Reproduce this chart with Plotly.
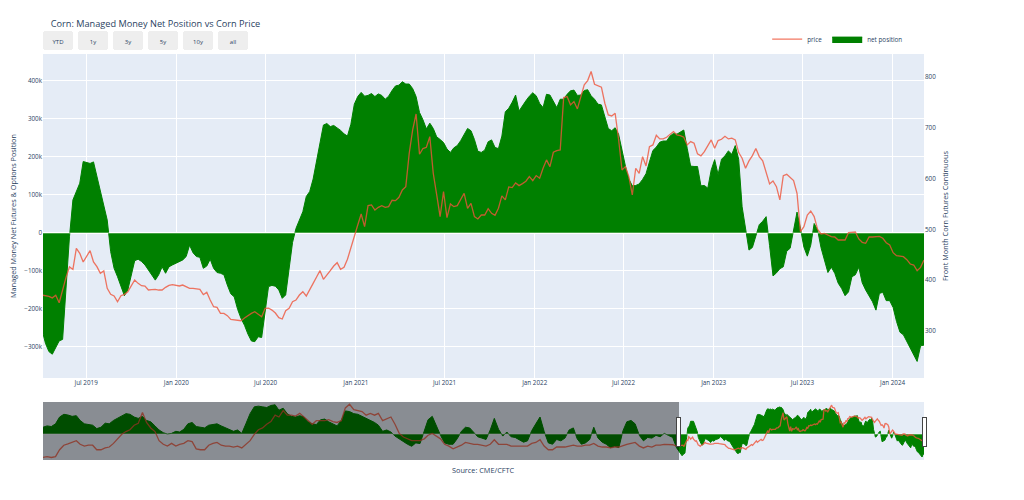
import pandas as pd
import plotly.graph_objects as go

# ---------------- data ----------------
# History (monthly, read from the range slider), Jun 2006 - Mar 2019
hist_dates = pd.date_range("2006-06-01", "2019-03-01", freq="MS") + pd.Timedelta(days=12)
hist_net_k = [
    100, 120, 110, 150, 250, 290, 280,
    260, 270, 200, 150, 140, 130, 80, 100, 160, 150, 200, 230,
    260, 300, 290, 250, 230, 260, 200, 180, 120, 60, 20, 0,
    10, 40, 30, 70, 150, 170, 110, 100, 90, 130, 140, 150,
    120, 90, 60, 40, 60, 10, 150, 300, 400, 410, 400, 390,
    420, 430, 350, 380, 300, 260, 250, 270, 250, 180, 150, 140,
    210, 220, 180, 150, 120, 200, 340, 330, 300, 290, 260, 220,
    200, 170, 130, 40, 60, 30, -30, -70, -120, -150, -180, -130,
    -140, 50, 210, 260, 120, -20, -130, -150, -150, -70, 40, 100,
    90, 20, -40, -60, -80, 60, 230, 70, -30, 30, -40, -50,
    -80, -120, -100, 50, 150, 250, 40, -130, -150, -80, -100, -60,
    60, 90, -70, -150, -130, -80, 100, -60, -120, -150, -200, -180,
    -200, 50, 180, 200, 150, -20, -100, -50, -60, -20, -40, 10,
    -20, -50, -200,
]
hist_price = [
    235, 245, 235, 245, 320, 370, 385,
    400, 420, 380, 360, 370, 370, 320, 320, 340, 350, 390, 440,
    490, 520, 540, 590, 610, 730, 620, 560, 520, 420, 380, 360,
    390, 360, 380, 390, 420, 410, 330, 320, 320, 370, 390, 400,
    370, 360, 360, 350, 360, 340, 380, 420, 490, 540, 560, 600,
    630, 700, 680, 750, 700, 700, 690, 720, 680, 640, 600, 640,
    640, 640, 650, 630, 620, 640, 780, 820, 760, 750, 740, 700,
    720, 700, 720, 640, 660, 680, 600, 500, 460, 440, 420, 420,
    420, 440, 480, 500, 470, 440, 380, 360, 330, 350, 370, 400,
    390, 380, 380, 370, 360, 380, 430, 380, 380, 380, 360, 360,
    360, 360, 360, 390, 400, 430, 360, 320, 320, 350, 350, 350,
    360, 370, 360, 360, 370, 370, 390, 360, 350, 350, 340, 350,
    350, 370, 380, 390, 400, 360, 340, 360, 350, 370, 370, 380,
    380, 375, 360,
]

# Weekly (Tuesdays), Apr 2019 - Mar 2024
week_dates = pd.date_range("2019-04-02", "2024-03-05", freq="7D")
week_net_k = [
    -255, -290, -312, -319, -301, -284, -280, -141, -10, 87,
    109, 131, 188, 185, 183, 187, 148, 113, 74, 34,
    -49, -93, -115, -141, -165, -150, -115, -73, -69, -75,
    -84, -97, -110, -124, -110, -89, -106, -89, -84, -80,
    -75, -71, -62, -32, -52, -62, -64, -93, -87, -69,
    -93, -104, -106, -110, -137, -160, -168, -201, -225, -243,
    -266, -284, -286, -273, -275, -203, -141, -138, -140, -150,
    -172, -163, -97, -25, 12, 32, 56, 96, 109, 142,
    191, 237, 284, 288, 280, 283, 277, 270, 261, 255,
    286, 339, 359, 370, 360, 362, 367, 359, 366, 362,
    352, 360, 375, 387, 389, 398, 392, 392, 380, 359,
    317, 298, 274, 289, 275, 253, 246, 238, 221, 212,
    224, 230, 243, 258, 275, 269, 246, 215, 212, 218,
    240, 245, 225, 222, 255, 319, 328, 344, 363, 321,
    336, 348, 360, 369, 361, 341, 330, 365, 363, 346,
    330, 352, 352, 365, 374, 376, 362, 363, 375, 377,
    361, 352, 339, 337, 306, 275, 269, 277, 260, 214,
    176, 142, 124, 125, 129, 141, 156, 187, 217, 226,
    239, 242, 242, 255, 262, 260, 265, 271, 223, 176,
    175, 175, 124, 125, 118, 166, 193, 154, 194, 203,
    216, 207, 230, 194, 69, 12, -45, -38, -11, 22,
    31, 43, -33, -113, -105, -94, -89, -48, -40, 6,
    55, 12, -37, -61, -32, 25, 8, -39, -71, -104,
    -90, -106, -132, -146, -165, -155, -115, -110, -90, -131,
    -150, -167, -181, -203, -159, -156, -178, -178, -196, -233,
    -261, -268, -286, -304, -321, -338, -297, -295,
]
week_price = [
    370.6, 370.0, 368.0, 365.0, 370.0, 355.5, 382.0, 405.5, 426.0, 421.0,
    462.6, 452.7, 435.7, 447.5, 458.0, 435.7, 426.5, 413.3, 418.0, 383.8,
    372.0, 368.7, 357.5, 369.4, 372.0, 377.2, 389.0, 400.2, 393.6, 389.0,
    388.4, 380.5, 381.2, 381.8, 380.5, 380.5, 385.8, 389.7, 391.0, 389.7,
    388.4, 390.3, 387.0, 383.8, 383.8, 383.1, 381.8, 371.3, 375.9, 360.8,
    347.7, 346.4, 334.5, 334.5, 330.0, 322.7, 321.4, 321.4, 320.1, 325.3,
    330.6, 334.5, 337.8, 332.6, 328.0, 344.4, 345.0, 341.0, 335.2, 326.0,
    323.4, 339.8, 344.4, 357.5, 360.8, 370.6, 377.2, 368.7, 379.8, 393.6,
    406.1, 418.6, 401.5, 409.4, 418.6, 427.8, 434.3, 421.2, 425.1, 441.0,
    461.9, 485.6, 508.5, 530.2, 505.3, 546.6, 548.0, 538.0, 543.3, 546.6,
    543.3, 544.6, 557.1, 556.5, 563.0, 577.5, 584.0, 649.7, 695.7, 727.0,
    647.7, 659.0, 661.5, 682.5, 610.3, 568.3, 525.0, 574.2, 523.0, 550.0,
    544.6, 546.6, 557.8, 570.9, 541.4, 551.2, 525.0, 520.4, 528.2, 528.2,
    540.7, 531.5, 527.6, 541.4, 565.7, 557.8, 583.4, 582.0, 591.3, 586.0,
    590.0, 594.6, 603.7, 595.9, 605.7, 600.5, 620.2, 636.6, 623.4, 651.7,
    655.0, 656.3, 759.4, 761.3, 745.0, 751.5, 737.0, 760.0, 784.3, 792.8,
    810.6, 785.6, 782.3, 779.7, 748.2, 725.2, 723.2, 728.5, 677.3, 616.9,
    623.4, 603.7, 567.6, 620.2, 610.3, 643.1, 624.8, 662.8, 666.1, 685.2,
    678.0, 678.0, 681.2, 687.8, 692.4, 685.8, 684.5, 681.2, 666.1, 672.7,
    669.4, 648.4, 644.5, 653.0, 664.1, 676.0, 659.6, 674.7, 677.3, 683.2,
    678.0, 679.3, 676.0, 651.0, 639.9, 620.2, 634.6, 645.1, 659.0, 643.1,
    634.6, 610.3, 589.3, 595.2, 584.0, 557.8, 605.7, 608.3, 602.4, 595.9,
    570.9, 495.4, 505.3, 528.2, 536.0, 525.0, 500.0, 490.8, 492.1, 488.8,
    485.6, 484.9, 479.0, 479.0, 479.0, 493.4, 494.1, 494.7, 481.0, 474.4,
    472.4, 484.9, 484.9, 486.2, 486.2, 482.3, 473.7, 469.1, 454.0, 448.1,
    447.5, 446.2, 440.2, 431.7, 429.7, 418.6, 425.1, 439.6,
]

dates = list(hist_dates) + list(week_dates)
net_position = [v * 1000 for v in hist_net_k + week_net_k]
price = hist_price + week_price

visible_range = ["2019-04-04", "2024-03-05"]

# ---------------- figure ----------------
fig = go.Figure()
fig.add_trace(go.Scatter(
    x=dates, y=price, name="price", yaxis="y2", mode="lines",
    line=dict(color="#EF553B", width=1.3), opacity=0.8,
))
fig.add_trace(go.Scatter(
    x=dates, y=net_position, name="net position", mode="lines",
    fill="tozeroy", fillcolor="green", line=dict(color="green", width=1),
))
fig.add_trace(go.Scatter(
    x=[dates[0], dates[-1]], y=[0, 0], mode="lines", showlegend=False,
    hoverinfo="skip", line=dict(color="rgba(255,255,255,0.55)", width=1),
))

small = 6.3
fig.update_layout(
    template="plotly",
    width=1016, height=492,
    font=dict(family="Open Sans, verdana, arial, sans-serif", size=small, color="#2a3f5f"),
    title=dict(text="Corn: Managed Money Net Position vs Corn Price",
               font=dict(size=9.2), x=0.042, xanchor="left", y=0.9675, yanchor="middle"),
    margin=dict(l=35, r=100, t=46, b=40),
    legend=dict(orientation="h", x=0.822, xanchor="left", y=1.046, yanchor="middle",
                font=dict(size=small), bgcolor="rgba(0,0,0,0)"),
    xaxis=dict(
        range=visible_range, dtick="M6", tick0="2019-01-01", tickformat="%b %Y",
        tickfont=dict(size=small),
        rangeslider=dict(visible=True, thickness=0.143, bgcolor="#E5ECF6"),
        rangeselector=dict(
            buttons=[
                dict(count=1, label="YTD", step="year", stepmode="todate"),
                dict(count=1, label="1y", step="year", stepmode="backward"),
                dict(count=3, label="3y", step="year", stepmode="backward"),
                dict(count=5, label="5y", step="year", stepmode="backward"),
                dict(count=10, label="10y", step="year", stepmode="backward"),
                dict(step="all", label="all"),
            ],
            x=0, xanchor="left", y=1.01, yanchor="bottom", font=dict(size=6),
        ),
    ),
    yaxis=dict(
        title=dict(text="Managed Money Net Futures & Options Position",
                   font=dict(size=7.3), standoff=9),
        range=[-381600, 471000], dtick=100000, tickfont=dict(size=small),
        automargin=False,
    ),
    yaxis2=dict(
        title=dict(text="Front Month Corn Futures Continuous",
                   font=dict(size=7.3), standoff=7),
        overlaying="y", side="right", range=[207.3, 845.1], dtick=100,
        showgrid=False, zeroline=False, tickfont=dict(size=small), automargin=False,
    ),
    annotations=[dict(
        text="Source: CME/CFTC", xref="paper", yref="paper", x=0.5, y=-0.284,
        xanchor="center", yanchor="middle", showarrow=False,
        font=dict(size=7.3, color="#2a3f5f"),
    )],
)

fig.write_html("out.html")
